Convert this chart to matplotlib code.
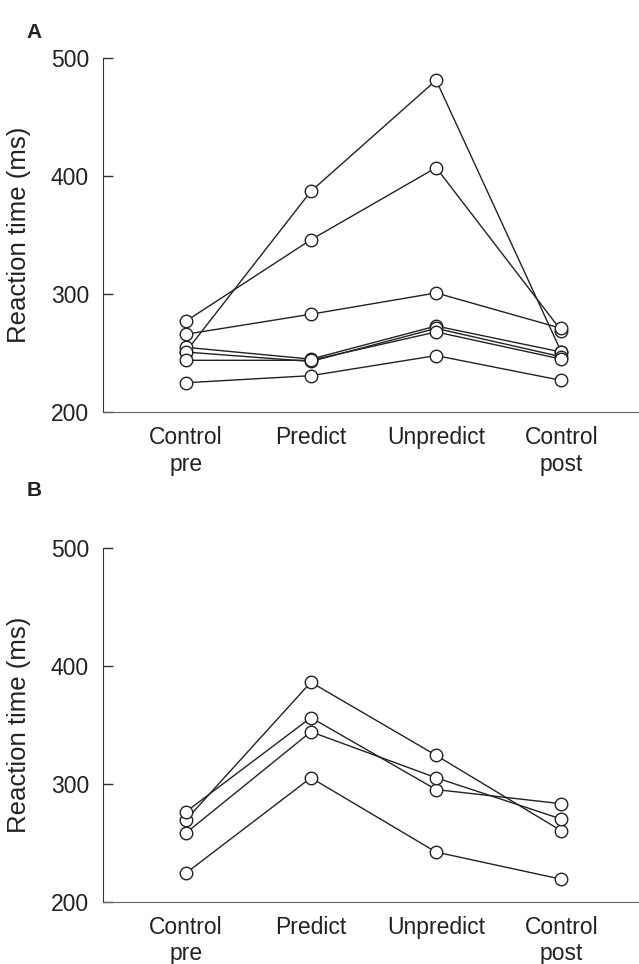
import matplotlib
matplotlib.use("Agg")
import matplotlib.pyplot as plt
import numpy as np

plt.rcParams['font.family'] = ['Liberation Sans', 'DejaVu Sans']

# conditions on the x axis
conditions = ["Control\npre", "Predict", "Unpredict", "Control\npost"]

# panel A: one row per subject (pre, predict, unpredict, post), in ms
panel_a = [
    [251, 387, 481, 251],
    [277, 346, 407, 269],
    [266, 283, 301, 271],
    [255, 245, 273, 251],
    [251, 243, 271, 247],
    [244, 244, 268, 245],
    [225, 231, 248, 227],
]

# panel B
panel_b = [
    [269, 386, 324, 260],
    [276, 356, 295, 283],
    [258, 344, 305, 270],
    [224, 305, 242, 219],
]

y_ticks = [200, 300, 400, 500]
panel_letters = ["A", "B"]


def draw_panel(ax, data):
    x = np.arange(1, len(conditions) + 1)
    for row in data:
        ax.plot(x, row, color="#222222", lw=1.0, zorder=2)
    for row in data:
        ax.plot(x, row, ls="none", marker="o", ms=9, mfc="white",
                mec="#222222", mew=1.0, zorder=3)
    ax.set_xlim(0.34, 4.62)
    ax.set_ylim(200, 500)
    ax.set_yticks(y_ticks)
    ax.set_xticks(x)
    ax.set_xticklabels(conditions, fontsize=16.5, color="#222222", linespacing=1.2)
    ax.tick_params(axis="x", length=0, pad=10)
    ax.tick_params(axis="y", direction="in", length=7, width=1,
                   labelsize=16.5, labelcolor="#222222", color="#333333", pad=10)
    ax.spines["top"].set_visible(False)
    ax.spines["right"].set_visible(False)
    ax.spines["left"].set_color("#333333")
    ax.spines["bottom"].set_color("#666666")
    ax.set_ylabel("Reaction time (ms)", fontsize=18.5, color="#222222", labelpad=14)


fig = plt.figure(figsize=(6.39, 9.64), dpi=100)
ax1 = fig.add_axes([0.1612, 0.5723, 0.8388, 0.3678])
ax2 = fig.add_axes([0.1612, 0.0647, 0.8388, 0.3671])

draw_panel(ax1, panel_a)
draw_panel(ax2, panel_b)

fig.text(34 / 639, 1 - 33 / 964, panel_letters[0], fontsize=15, fontweight="bold",
         ha="center", va="center", color="#222222")
fig.text(34 / 639, 1 - 490 / 964, panel_letters[1], fontsize=15, fontweight="bold",
         ha="center", va="center", color="#222222")

fig.savefig("out.png", dpi=100)
